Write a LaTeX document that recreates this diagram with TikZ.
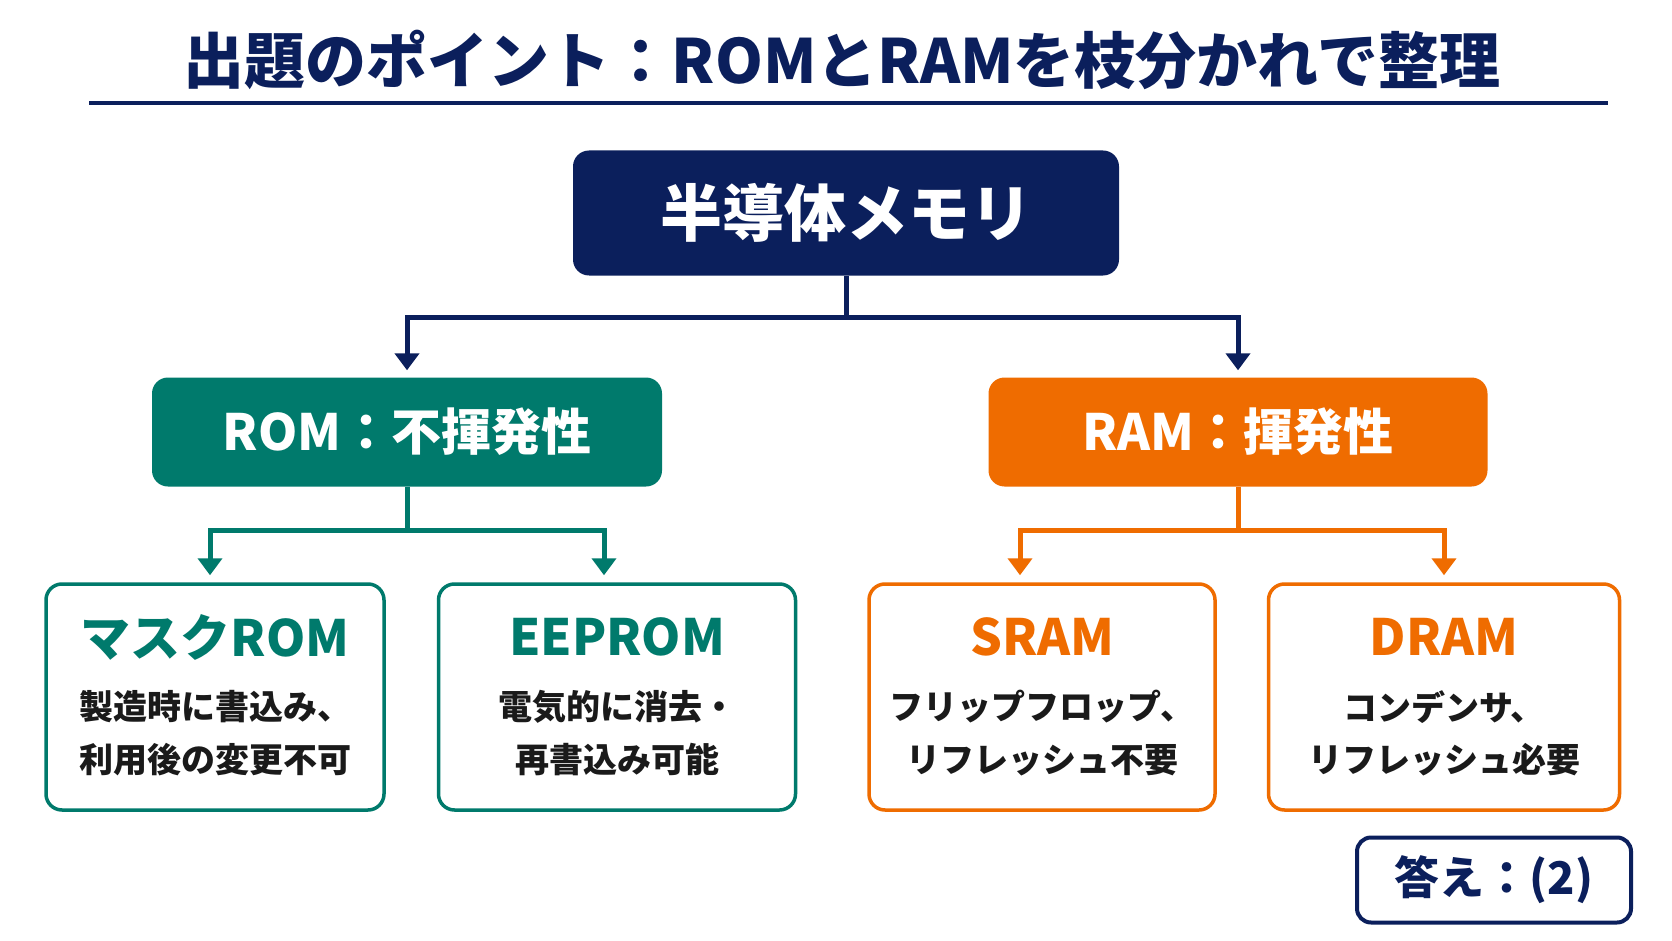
\documentclass[tikz,border=0pt]{standalone}
\usepackage{fontspec}
\setmainfont{Noto Sans CJK JP}
\usetikzlibrary{arrows.meta,calc}
\definecolor{navy}{HTML}{0B1F5C}
\definecolor{romc}{HTML}{007A6C}
\definecolor{ramc}{HTML}{EF6C00}
\definecolor{txt}{HTML}{1A1A1A}
\tikzset{
  hdbox/.style={fill=navy, rounded corners=16pt, text=white, font=\bfseries\fontsize{62}{70}\selectfont, minimum height=125pt, inner sep=0pt},
  midbox/.style={rounded corners=16pt, text=white, font=\bfseries\fontsize{50}{60}\selectfont, minimum height=109pt, inner sep=0pt},
  leafbox/.style={draw, line width=3.5pt, fill=white, rounded corners=16pt, minimum height=226pt, inner sep=0pt},
  leaftitle/.style={font=\bfseries\fontsize{50}{58}\selectfont},
  leafdesc/.style={font=\bfseries\fontsize{34}{40}\selectfont, text=txt},
  conn/.style={line width=5pt},
  arr/.style={conn, -{Triangle[width=24pt,length=17pt]}, shorten >=7pt},
}
\begin{document}
\begin{tikzpicture}[x=1pt,y=-1pt]
\fill[white] (0,0) rectangle (1672,941);
\useasboundingbox (0,0) rectangle (1672,941);
% title
\node[font=\bfseries\fontsize{61}{69}\selectfont, text=navy] (title) at (842,60) {出題のポイント：ROMとRAMを枝分かれで整理};
\coordinate (ul1) at (89,103);
\coordinate (ul2) at (1608,103);
\draw[navy, line width=4.5pt] (ul1) -- (ul2);
% main nodes
\node[hdbox, minimum width=546pt] (top) at (846,213) {半導体メモリ};
\node[midbox, fill=romc, minimum width=510pt] (rom) at (407,432) {ROM：不揮発性};
\node[midbox, fill=ramc, minimum width=499pt] (ram) at (1238,432) {RAM：揮発性};
% leaves
\node[leafbox, draw=romc, minimum width=338pt] (mask) at (215,697) {};
\node[leafbox, draw=romc, minimum width=357pt] (eep) at (617,697) {};
\node[leafbox, draw=ramc, minimum width=346pt] (sram) at (1042,697) {};
\node[leafbox, draw=ramc, minimum width=351pt] (dram) at (1444,697) {};
\node[leaftitle, text=romc] (maskt) at ($(mask.center)+(0,-60)$) {マスクROM};
\node[leafdesc] (maskd1) at ($(mask.center)+(0,10)$) {製造時に書込み、};
\node[leafdesc] (maskd2) at ($(mask.center)+(0,63)$) {利用後の変更不可};
\node[leaftitle, text=romc] (eept) at ($(eep.center)+(0,-60)$) {EEPROM};
\node[leafdesc] (eepd1) at ($(eep.center)+(0,10)$) {電気的に消去・};
\node[leafdesc] (eepd2) at ($(eep.center)+(0,63)$) {再書込み可能};
\node[leaftitle, text=ramc] (sramt) at ($(sram.center)+(0,-60)$) {SRAM};
\node[leafdesc] (sramd1) at ($(sram.center)+(0,10)$) {フリップフロップ、};
\node[leafdesc] (sramd2) at ($(sram.center)+(0,63)$) {リフレッシュ不要};
\node[leaftitle, text=ramc] (dramt) at ($(dram.center)+(0,-60)$) {DRAM};
\node[leafdesc] (dramd1) at ($(dram.center)+(0,10)$) {コンデンサ、};
\node[leafdesc] (dramd2) at ($(dram.center)+(0,63)$) {リフレッシュ必要};
% answer
\node[draw=navy, line width=4pt, fill=white, rounded corners=14pt, minimum width=274pt, minimum height=85pt, inner sep=0pt, text=navy, font=\bfseries\fontsize{45}{52}\selectfont] (ans) at (1494,880) {答え：(2)};
% connectors
\coordinate (j1) at ($(top.south)+(0,42)$);
\draw[conn, navy] (top.south) -- (j1);
\draw[arr, navy] (j1) -| (rom.north);
\draw[arr, navy] (j1) -| (ram.north);
\coordinate (j2) at ($(rom.south)+(0,44)$);
\draw[conn, romc] (rom.south) -- (j2);
\draw[arr, romc] (j2) -| ($(mask.north)+(-5,0)$);
\draw[arr, romc] (j2) -| ($(eep.north)+(-13,0)$);
\coordinate (j3) at ($(ram.south)+(0,44)$);
\draw[conn, ramc] (ram.south) -- (j3);
\draw[arr, ramc] (j3) -| ($(sram.north)+(-22,0)$);
\draw[arr, ramc] (j3) -| (dram.north);
\end{tikzpicture}
\end{document}
